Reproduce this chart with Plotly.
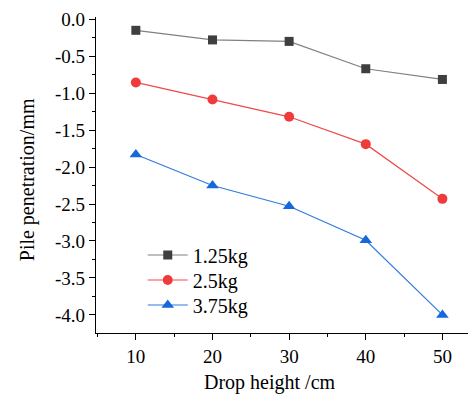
import plotly.graph_objects as go

drop_height = [10, 20, 30, 40, 50]
pen_125 = [-0.15, -0.28, -0.30, -0.67, -0.815]
pen_25 = [-0.855, -1.085, -1.32, -1.69, -2.43]
pen_375 = [-1.83, -2.25, -2.53, -2.99, -4.0]
series_names = ["1.25kg", "2.5kg", "3.75kg"]
y_tickvals = [0.0, -0.5, -1.0, -1.5, -2.0, -2.5, -3.0, -3.5, -4.0]
y_ticktext = ["0.0", "-0.5", "-1.0", "-1.5", "-2.0", "-2.5", "-3.0", "-3.5", "-4.0"]

font = "Liberation Serif, Times New Roman, serif"

fig = go.Figure()
fig.add_trace(go.Scatter(x=drop_height, y=pen_125, name=series_names[0], mode="lines+markers",
                         legend="legend",
                         line=dict(color="#808080", width=1.2),
                         marker=dict(symbol="square", size=9, color="#3f3f3f")))
fig.add_trace(go.Scatter(x=drop_height, y=pen_25, name=series_names[1], mode="lines+markers",
                         legend="legend2",
                         line=dict(color="#f04a4a", width=1.2),
                         marker=dict(symbol="circle", size=10, color="#ef3b3b")))
fig.add_trace(go.Scatter(x=drop_height, y=pen_375, name=series_names[2], mode="lines+markers",
                         legend="legend3",
                         line=dict(color="#2f7be0", width=1.2),
                         marker=dict(symbol="triangle-up", size=11, color="#1668dc")))

leg_common = dict(xanchor="left", yanchor="middle", bgcolor="rgba(0,0,0,0)",
                  font=dict(family=font, size=20), itemwidth=40)

fig.update_layout(
    width=468, height=389,
    margin=dict(l=88, r=6, t=9, b=64),
    paper_bgcolor="white", plot_bgcolor="white",
    font=dict(family=font, size=16, color="black"),
    showlegend=True,
    legend=dict(x=0.125, y=0.2468, **leg_common),
    legend2=dict(x=0.125, y=0.1677, **leg_common),
    legend3=dict(x=0.125, y=0.0886, **leg_common),
    xaxis=dict(range=[4.8, 53.6], tickmode="array", tickvals=drop_height,
               ticks="outside", ticklen=6, tickwidth=1, tickcolor="black",
               showline=True, linecolor="black", linewidth=1.3, showgrid=False, zeroline=False,
               minor=dict(tickvals=[5, 15, 25, 35, 45], ticks="outside", ticklen=3, tickcolor="black"),
               automargin=False,
               tickfont=dict(family=font, size=19)),
    yaxis=dict(range=[-4.245, 0.03], tickmode="array", tickvals=y_tickvals, ticktext=y_ticktext,
               ticks="outside", ticklen=6, tickwidth=1, tickcolor="black",
               showline=True, linecolor="black", linewidth=1.3, showgrid=False, zeroline=False,
               minor=dict(dtick=0.25, ticks="outside", ticklen=3, tickcolor="black"),
               automargin=False,
               tickfont=dict(family=font, size=19)),
    annotations=[
        dict(text="Drop height /cm", xref="paper", yref="paper", x=0.464, y=-0.158,
             xanchor="center", yanchor="middle", showarrow=False,
             font=dict(family=font, size=20)),
        dict(text="Pile penetration/mm", xref="paper", yref="paper", x=-0.184, y=0.484,
             xanchor="center", yanchor="middle", showarrow=False, textangle=-90,
             font=dict(family=font, size=20)),
    ],
)

fig.write_html("out.html")
